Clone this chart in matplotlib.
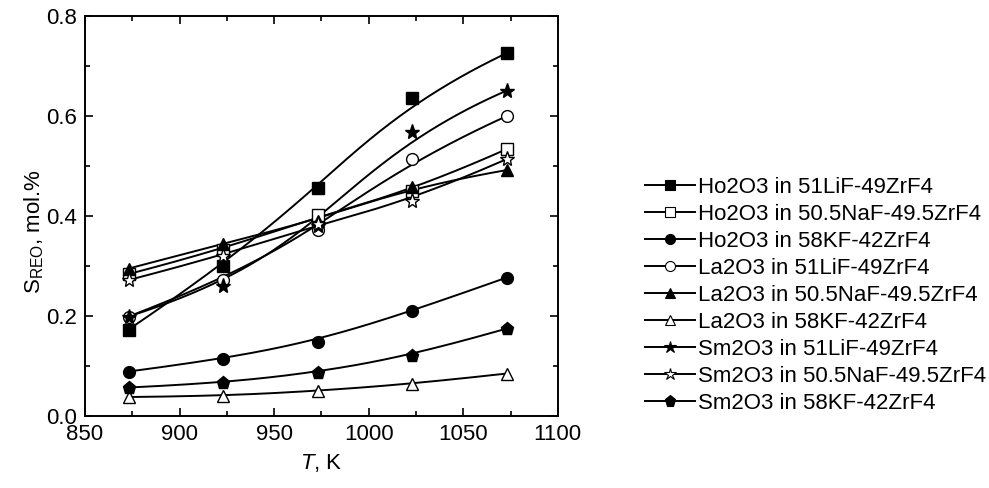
import numpy as np
import matplotlib
matplotlib.use("Agg")
import matplotlib.pyplot as plt
from matplotlib.ticker import MultipleLocator, FormatStrFormatter

plt.rcParams['font.family'] = ['Liberation Sans', 'DejaVu Sans']
plt.rcParams['mathtext.fontset'] = 'custom'
plt.rcParams['mathtext.rm'] = 'Liberation Sans'
plt.rcParams['mathtext.it'] = 'Liberation Sans:italic'

# Temperatures, K
T = [873, 923, 973, 1023, 1073]

# Solubility, mol.%
ho_lif = [0.173, 0.301, 0.457, 0.636, 0.726]
ho_naf = [0.284, 0.333, 0.402, 0.450, 0.534]
ho_kf = [0.089, 0.114, 0.148, 0.210, 0.277]
la_lif = [0.199, 0.272, 0.373, 0.514, 0.600]
la_naf = [0.295, 0.345, 0.390, 0.459, 0.492]
la_kf = [0.038, 0.040, 0.050, 0.064, 0.085]
sm_lif = [0.199, 0.260, 0.381, 0.569, 0.651]
sm_naf = [0.272, 0.321, 0.385, 0.431, 0.514]
sm_kf = [0.057, 0.066, 0.086, 0.121, 0.175]

labels = ["Ho2O3 in 51LiF-49ZrF4", "Ho2O3 in 50.5NaF-49.5ZrF4",
          "Ho2O3 in 58KF-42ZrF4", "La2O3 in 51LiF-49ZrF4",
          "La2O3 in 50.5NaF-49.5ZrF4", "La2O3 in 58KF-42ZrF4",
          "Sm2O3 in 51LiF-49ZrF4", "Sm2O3 in 50.5NaF-49.5ZrF4",
          "Sm2O3 in 58KF-42ZrF4"]
series = [ho_lif, ho_naf, ho_kf, la_lif, la_naf, la_kf, sm_lif, sm_naf, sm_kf]
markers = ['s', 's', 'o', 'o', '^', '^', '*', '*', 'p']
filled = [True, False, True, False, True, False, True, False, True]
msizes = {'s': 8.5, 'o': 8.5, '^': 9, '*': 11, 'p': 9.5}


def bspline(x, y, deg=3, n=200):
    # clamped B-spline with the data points as control points (Origin-style line)
    P = np.column_stack([x, y]).astype(float)
    k = len(P)
    inner = np.arange(1, k - deg)
    knots = np.concatenate([np.zeros(deg + 1), inner, np.full(deg + 1, k - deg)])
    ts = np.linspace(0, k - deg, n)
    out = []
    for t in ts:
        s = min(np.searchsorted(knots, t, side='right') - 1, k - 1)
        d = [P[j].copy() for j in range(s - deg, s + 1)]
        for r in range(1, deg + 1):
            for j in range(deg, r - 1, -1):
                i = j + s - deg
                den = knots[i + deg - r + 1] - knots[i]
                a = 0 if den == 0 else (t - knots[i]) / den
                d[j] = (1 - a) * d[j - 1] + a * d[j]
        out.append(d[deg])
    out = np.array(out)
    return out[:, 0], out[:, 1]


fig = plt.figure(figsize=(9.89, 4.88), dpi=100)
ax = fig.add_axes([0.086, 0.1475, 0.478, 0.8195])

for vals, lab, m, f in zip(series, labels, markers, filled):
    xs, ys = bspline(T, vals)
    ax.plot(xs, ys, color='black', lw=1.4, zorder=2)
    ax.plot(T, vals, linestyle='none', marker=m, ms=msizes[m],
            mfc='black' if f else 'white', mec='black', mew=1.0, zorder=3)
    # legend proxy
    ax.plot([], [], color='black', lw=1.4, marker=m, ms=msizes[m] * 0.85,
            mfc='black' if f else 'white', mec='black', mew=0.8, label=lab)

ax.set_xlim(850, 1100)
ax.set_ylim(0.0, 0.8)
ax.xaxis.set_major_locator(MultipleLocator(50))
ax.xaxis.set_minor_locator(MultipleLocator(25))
ax.yaxis.set_major_locator(MultipleLocator(0.2))
ax.yaxis.set_minor_locator(MultipleLocator(0.1))
ax.yaxis.set_major_formatter(FormatStrFormatter('%.1f'))
ax.tick_params(which='both', direction='in', top=True, right=True,
               labelsize=16, width=1.2, pad=6)
ax.tick_params(which='major', length=6)
ax.tick_params(which='minor', length=3.5)
for s in ax.spines.values():
    s.set_linewidth(1.4)

ax.set_xlabel('$T$, K', fontsize=16, labelpad=5)
ax.set_ylabel('S$_{\\rm REO}$, mol.%', fontsize=16)
ax.yaxis.set_label_coords(-0.082, 0.46)

fig.legend(loc='center left', bbox_to_anchor=(0.652, 0.3945), frameon=False,
           fontsize=16, handlelength=2.25, handletextpad=0.15,
           labelspacing=0.27, borderpad=0, borderaxespad=0)

fig.savefig('out.png', dpi=100)
